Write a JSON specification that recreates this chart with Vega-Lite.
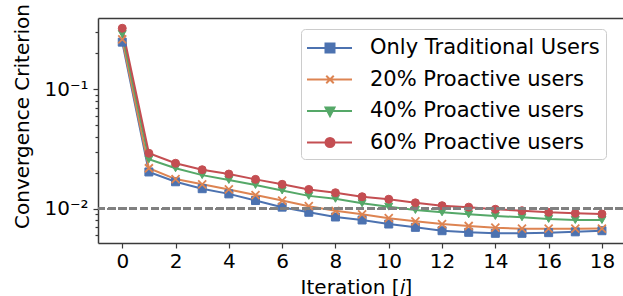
{
  "$schema": "https://vega.github.io/schema/vega-lite/v6.json",
  "width": 525,
  "height": 225,
  "autosize": {"type": "none"},
  "padding": {"left": 98, "top": 18, "right": 0, "bottom": 53},
  "background": "white",
  "config": {
    "view": {"stroke": null},
    "font": "DejaVu Sans",
    "axis": {
      "grid": false,
      "labelFont": "DejaVu Sans",
      "labelFontSize": 20,
      "labelColor": "#000000",
      "titleFont": "DejaVu Sans",
      "titleFontSize": 20,
      "titleFontWeight": "normal",
      "titleColor": "#000000",
      "domainColor": "#3a3a3a",
      "domainWidth": 1.5,
      "tickColor": "#3a3a3a",
      "tickWidth": 1.2
    },
    "legend": {
      "strokeColor": "#cccccc",
      "fillColor": "#ffffff",
      "cornerRadius": 4
    }
  },
  "data": {
    "values": [
      {"i": 0, "series": "Only Traditional Users", "v": 0.248},
      {"i": 1, "series": "Only Traditional Users", "v": 0.0203},
      {"i": 2, "series": "Only Traditional Users", "v": 0.0168},
      {"i": 3, "series": "Only Traditional Users", "v": 0.0147},
      {"i": 4, "series": "Only Traditional Users", "v": 0.0133},
      {"i": 5, "series": "Only Traditional Users", "v": 0.0117},
      {"i": 6, "series": "Only Traditional Users", "v": 0.0103},
      {"i": 7, "series": "Only Traditional Users", "v": 0.00933},
      {"i": 8, "series": "Only Traditional Users", "v": 0.00852},
      {"i": 9, "series": "Only Traditional Users", "v": 0.00804},
      {"i": 10, "series": "Only Traditional Users", "v": 0.00744},
      {"i": 11, "series": "Only Traditional Users", "v": 0.00698},
      {"i": 12, "series": "Only Traditional Users", "v": 0.00654},
      {"i": 13, "series": "Only Traditional Users", "v": 0.00634},
      {"i": 14, "series": "Only Traditional Users", "v": 0.00622},
      {"i": 15, "series": "Only Traditional Users", "v": 0.00622},
      {"i": 16, "series": "Only Traditional Users", "v": 0.0063},
      {"i": 17, "series": "Only Traditional Users", "v": 0.0064},
      {"i": 18, "series": "Only Traditional Users", "v": 0.00654},
      {"i": 0, "series": "20% Proactive users", "v": 0.262},
      {"i": 1, "series": "20% Proactive users", "v": 0.0218},
      {"i": 2, "series": "20% Proactive users", "v": 0.0177},
      {"i": 3, "series": "20% Proactive users", "v": 0.016},
      {"i": 4, "series": "20% Proactive users", "v": 0.0145},
      {"i": 5, "series": "20% Proactive users", "v": 0.013},
      {"i": 6, "series": "20% Proactive users", "v": 0.0117},
      {"i": 7, "series": "20% Proactive users", "v": 0.0105},
      {"i": 8, "series": "20% Proactive users", "v": 0.0096},
      {"i": 9, "series": "20% Proactive users", "v": 0.00897},
      {"i": 10, "series": "20% Proactive users", "v": 0.00832},
      {"i": 11, "series": "20% Proactive users", "v": 0.00784},
      {"i": 12, "series": "20% Proactive users", "v": 0.00744},
      {"i": 13, "series": "20% Proactive users", "v": 0.00716},
      {"i": 14, "series": "20% Proactive users", "v": 0.00693},
      {"i": 15, "series": "20% Proactive users", "v": 0.0068},
      {"i": 16, "series": "20% Proactive users", "v": 0.0068},
      {"i": 17, "series": "20% Proactive users", "v": 0.0068},
      {"i": 18, "series": "20% Proactive users", "v": 0.00682},
      {"i": 0, "series": "40% Proactive users", "v": 0.29},
      {"i": 1, "series": "40% Proactive users", "v": 0.0259},
      {"i": 2, "series": "40% Proactive users", "v": 0.0218},
      {"i": 3, "series": "40% Proactive users", "v": 0.0191},
      {"i": 4, "series": "40% Proactive users", "v": 0.0174},
      {"i": 5, "series": "40% Proactive users", "v": 0.0158},
      {"i": 6, "series": "40% Proactive users", "v": 0.0142},
      {"i": 7, "series": "40% Proactive users", "v": 0.0128},
      {"i": 8, "series": "40% Proactive users", "v": 0.0121},
      {"i": 9, "series": "40% Proactive users", "v": 0.0111},
      {"i": 10, "series": "40% Proactive users", "v": 0.0104},
      {"i": 11, "series": "40% Proactive users", "v": 0.00975},
      {"i": 12, "series": "40% Proactive users", "v": 0.00932},
      {"i": 13, "series": "40% Proactive users", "v": 0.00897},
      {"i": 14, "series": "40% Proactive users", "v": 0.00869},
      {"i": 15, "series": "40% Proactive users", "v": 0.00847},
      {"i": 16, "series": "40% Proactive users", "v": 0.0082},
      {"i": 17, "series": "40% Proactive users", "v": 0.00804},
      {"i": 18, "series": "40% Proactive users", "v": 0.00804},
      {"i": 0, "series": "60% Proactive users", "v": 0.324},
      {"i": 1, "series": "60% Proactive users", "v": 0.0291},
      {"i": 2, "series": "60% Proactive users", "v": 0.024},
      {"i": 3, "series": "60% Proactive users", "v": 0.0212},
      {"i": 4, "series": "60% Proactive users", "v": 0.0195},
      {"i": 5, "series": "60% Proactive users", "v": 0.0176},
      {"i": 6, "series": "60% Proactive users", "v": 0.016},
      {"i": 7, "series": "60% Proactive users", "v": 0.0145},
      {"i": 8, "series": "60% Proactive users", "v": 0.0136},
      {"i": 9, "series": "60% Proactive users", "v": 0.0126},
      {"i": 10, "series": "60% Proactive users", "v": 0.012},
      {"i": 11, "series": "60% Proactive users", "v": 0.0112},
      {"i": 12, "series": "60% Proactive users", "v": 0.0106},
      {"i": 13, "series": "60% Proactive users", "v": 0.0103},
      {"i": 14, "series": "60% Proactive users", "v": 0.00989},
      {"i": 15, "series": "60% Proactive users", "v": 0.00962},
      {"i": 16, "series": "60% Proactive users", "v": 0.00932},
      {"i": 17, "series": "60% Proactive users", "v": 0.00915},
      {"i": 18, "series": "60% Proactive users", "v": 0.00903}
    ]
  },
  "resolve": {"axis": {"x": "independent"}},
  "layer": [
    {
      "mark": {"type": "line", "strokeWidth": 2},
      "encoding": {
        "x": {
          "field": "i", "type": "quantitative",
          "scale": {"domain": [-0.91, 18.79], "nice": false, "zero": false},
          "axis": {
            "values": [0, 2, 4, 6, 8, 10, 12, 14, 16, 18],
            "tickSize": 5,
            "labelPadding": 3,
            "labelFlush": false,
            "title": "Iteration [𝑖]",
            "titleX": 258,
            "titleY": 50,
            "titleBaseline": "alphabetic",
            "titleAlign": "center"
          }
        },
        "y": {
          "field": "v", "type": "quantitative",
          "scale": {"type": "log", "domain": [0.00516, 0.395], "nice": false},
          "axis": {
            "values": [0.006, 0.007, 0.008, 0.009, 0.01, 0.02, 0.03, 0.04, 0.05, 0.06, 0.07, 0.08, 0.09, 0.1, 0.2, 0.3],
            "labelExpr": "datum.value == 0.1 ? '10⁻¹' : (datum.value == 0.01 ? '10⁻²' : '')",
            "tickSize": {"condition": {"test": "datum.value == 0.1 || datum.value == 0.01", "value": 5}, "value": 3},
            "labelPadding": 5,
            "labelFlush": false,
            "labelOverlap": false,
            "title": "Convergence Criterion",
            "titleX": -76,
            "titleY": 98,
            "titleBaseline": "middle",
            "titleAlign": "center",
            "titleAngle": -90
          }
        },
        "color": {
          "field": "series", "type": "nominal",
          "scale": {
            "domain": ["Only Traditional Users", "20% Proactive users", "40% Proactive users", "60% Proactive users"],
            "range": ["#4C72B0", "#DD8452", "#55A868", "#C44E52"]
          },
          "legend": {
            "orient": "none",
            "legendX": 203,
            "legendY": 11,
            "title": null,
            "symbolSize": 576,
            "symbolStrokeWidth": 2,
            "labelFont": "DejaVu Sans",
            "labelFontSize": 21,
            "labelColor": "#000000",
            "labelOffset": 37,
            "labelLimit": 400,
            "rowPadding": 8.5,
            "padding": 6,
            "strokeColor": "#cccccc",
            "fillColor": "#ffffff",
            "cornerRadius": 4,
            "encoding": {
              "symbols": {
                "shape": {"value": {"expr": "datum.value === 'Only Traditional Users' ? 'M-1.083,0H2.667M0.458,-0.375H1.208V0.375H0.458Z' : datum.value === '20% Proactive users' ? 'M-1.083,0H2.667M0.52,-0.31L1.146,0.31M0.52,0.31L1.146,-0.31' : datum.value === '40% Proactive users' ? 'M-1.083,0H2.667M0.458,-0.3L1.208,-0.3L0.833,0.42Z' : 'M-1.083,0H2.667M0.458,0A0.375,0.375,0,1,1,1.208,0A0.375,0.375,0,1,1,0.458,0Z'"}},
                "stroke": {"value": {"expr": "scale('color', datum.value)"}},
                "fill": {"value": {"expr": "scale('color', datum.value)"}},
                "strokeWidth": {"value": 2},
                "opacity": {"value": 1}
              }
            }
          }
        },
        "order": {"field": "i", "type": "quantitative"}
      }
    },
    {
      "mark": {"type": "point", "filled": true, "size": 64, "opacity": 1},
      "encoding": {
        "x": {
          "field": "i", "type": "quantitative",
          "axis": {"orient": "top", "ticks": false, "labels": false, "title": null, "domain": true}
        },
        "y": {"field": "v", "type": "quantitative"},
        "fill": {
          "condition": [
            {"test": "datum.series === 'Only Traditional Users'", "value": "#4C72B0"},
            {"test": "datum.series === '20% Proactive users'", "value": "#DD8452"},
            {"test": "datum.series === '40% Proactive users'", "value": "#55A868"}
          ],
          "value": "#C44E52"
        },
        "stroke": {
          "condition": [
            {"test": "datum.series === 'Only Traditional Users'", "value": "#4C72B0"},
            {"test": "datum.series === '20% Proactive users'", "value": "#DD8452"},
            {"test": "datum.series === '40% Proactive users'", "value": "#55A868"}
          ],
          "value": "#C44E52"
        },
        "strokeWidth": {
          "condition": {"test": "datum.series === '20% Proactive users'", "value": 1.8},
          "value": 1
        },
        "shape": {
          "condition": [
            {"test": "datum.series === 'Only Traditional Users'", "value": "square"},
            {"test": "datum.series === '20% Proactive users'", "value": "M-1,-1L1,1M-1,1L1,-1"},
            {"test": "datum.series === '40% Proactive users'", "value": "triangle-down"}
          ],
          "value": "circle"
        }
      }
    },
    {
      "mark": {"type": "rule", "color": "#808080", "strokeWidth": 2, "strokeDash": [7.5, 3.3]},
      "encoding": {"y": {"datum": 0.01}}
    }
  ]
}
